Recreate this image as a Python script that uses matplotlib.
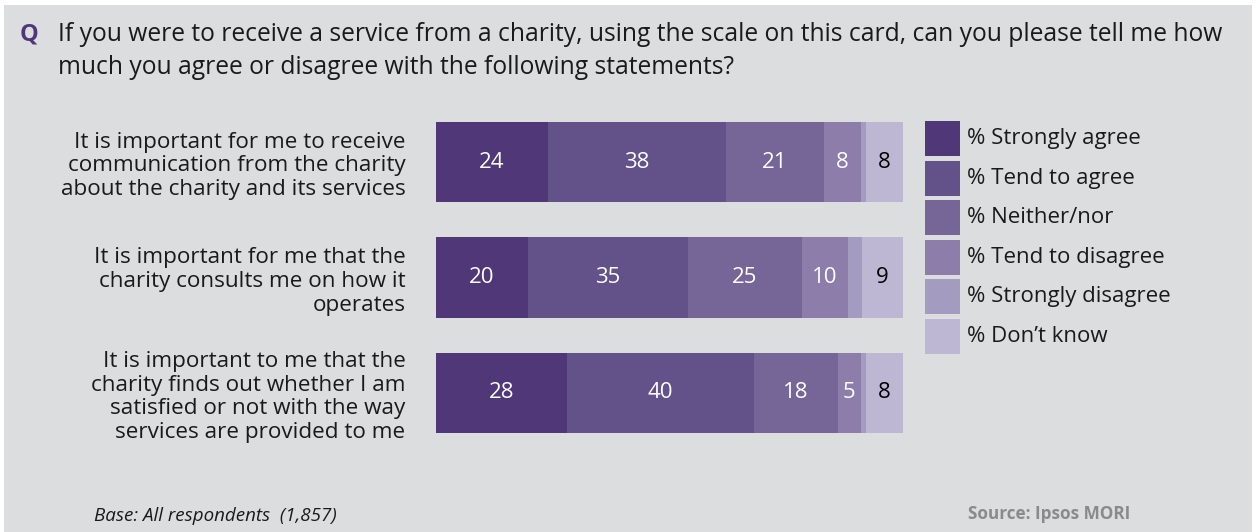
import matplotlib
matplotlib.use("Agg")
import matplotlib.pyplot as plt
import numpy as np

plt.rcParams['font.family'] = ['Open Sans', 'DejaVu Sans']

statements = [
    "It is important for me to receive\ncommunication from the charity\nabout the charity and its services",
    "It is important for me that the\ncharity consults me on how it\noperates",
    "It is important to me that the\ncharity finds out whether I am\nsatisfied or not with the way\nservices are provided to me",
]
categories = ["% Strongly agree", "% Tend to agree", "% Neither/nor",
              "% Tend to disagree", "% Strongly disagree", "% Don\u2019t know"]
strongly_agree = [24, 20, 28]
tend_agree = [38, 35, 40]
neither = [21, 25, 18]
tend_disagree = [8, 10, 5]
strongly_disagree = [1, 3, 1]
dont_know = [8, 9, 8]

colors = ["#503878", "#63518A", "#766597", "#8C7DAA", "#A49BC0", "#BDB7D4"]
label_colors = ["white", "white", "white", "white", None, "black"]

series = np.array([strongly_agree, tend_agree, neither, tend_disagree,
                   strongly_disagree, dont_know], dtype=float)
totals = series.sum(axis=0)
shares = series / totals * 100

W, H = 1257, 532
fig = plt.figure(figsize=(W / 100, H / 100), dpi=100)
fig.patch.set_facecolor("white")

# gray panel
panel = plt.Rectangle((4 / W, 0), (1252 - 4) / W, (H - 5) / H,
                      transform=fig.transFigure, facecolor="#DCDDDF",
                      edgecolor="none", zorder=-5)
fig.patches.append(panel)

left_px, right_px = 436, 903
top_px, bot_px = 104.25, 450.75
ax = fig.add_axes([left_px / W, 1 - bot_px / H, (right_px - left_px) / W,
                   (bot_px - top_px) / H])
ax.set_zorder(2)
ax.set_facecolor("none")
ypos = np.arange(len(statements))
left = np.zeros(len(statements))
for i, cat in enumerate(categories):
    ax.barh(ypos, shares[i], left=left, height=0.70, color=colors[i],
            label=cat, edgecolor="none")
    if label_colors[i] is not None:
        for j in range(len(statements)):
            ax.text(left[j] + shares[i][j] / 2, ypos[j], f"{int(series[i][j])}",
                    ha="center", va="center", color=label_colors[i],
                    fontsize=16)
    left += shares[i]

ax.set_xlim(0, 100)
ax.set_ylim(2.5, -0.5)
ax.set_yticks(ypos)
ax.set_yticklabels(statements, fontsize=16.2, ha="right", linespacing=1.18,
                   color="#1a1a1a")
ax.tick_params(axis="y", length=0, pad=22)
ax.set_xticks([])
for s in ax.spines.values():
    s.set_visible(False)

# legend (manual swatches)
sw_x, sw_top, sw_size, sw_step = 925, 121, 35, 39.6
for i, cat in enumerate(categories):
    top = sw_top + i * sw_step
    fig.add_artist(plt.Rectangle((sw_x / W, 1 - (top + sw_size) / H),
                                 sw_size / W, sw_size / H,
                                 transform=fig.transFigure,
                                 facecolor=colors[i], edgecolor="none"))
    fig.text(967 / W, 1 - (top + sw_size / 2) / H, cat, fontsize=16,
             va="center", ha="left", color="#1a1a1a")

# title
fig.text(20 / W, 1 - 35 / H, "Q", fontsize=17, fontweight="bold",
         color="#503878", va="center", ha="left")
fig.text(58 / W, 1 - 51 / H,
         "If you were to receive a service from a charity, using the scale on this card, can you please tell me how\n"
         "much you agree or disagree with the following statements?",
         fontsize=17.7, va="center", ha="left", color="#1a1a1a", linespacing=1.42)

# footer
fig.text(94 / W, 1 - 516 / H, "Base: All respondents  (1,857)", fontsize=13.5,
         style="italic", va="center", ha="left", color="#1a1a1a")
fig.text(1130 / W, 1 - 514 / H, "Source: Ipsos MORI", fontsize=12.3,
         fontweight="bold", va="center", ha="right", color="#8a8a8a")

fig.savefig("out.png", dpi=100, facecolor=fig.get_facecolor())
